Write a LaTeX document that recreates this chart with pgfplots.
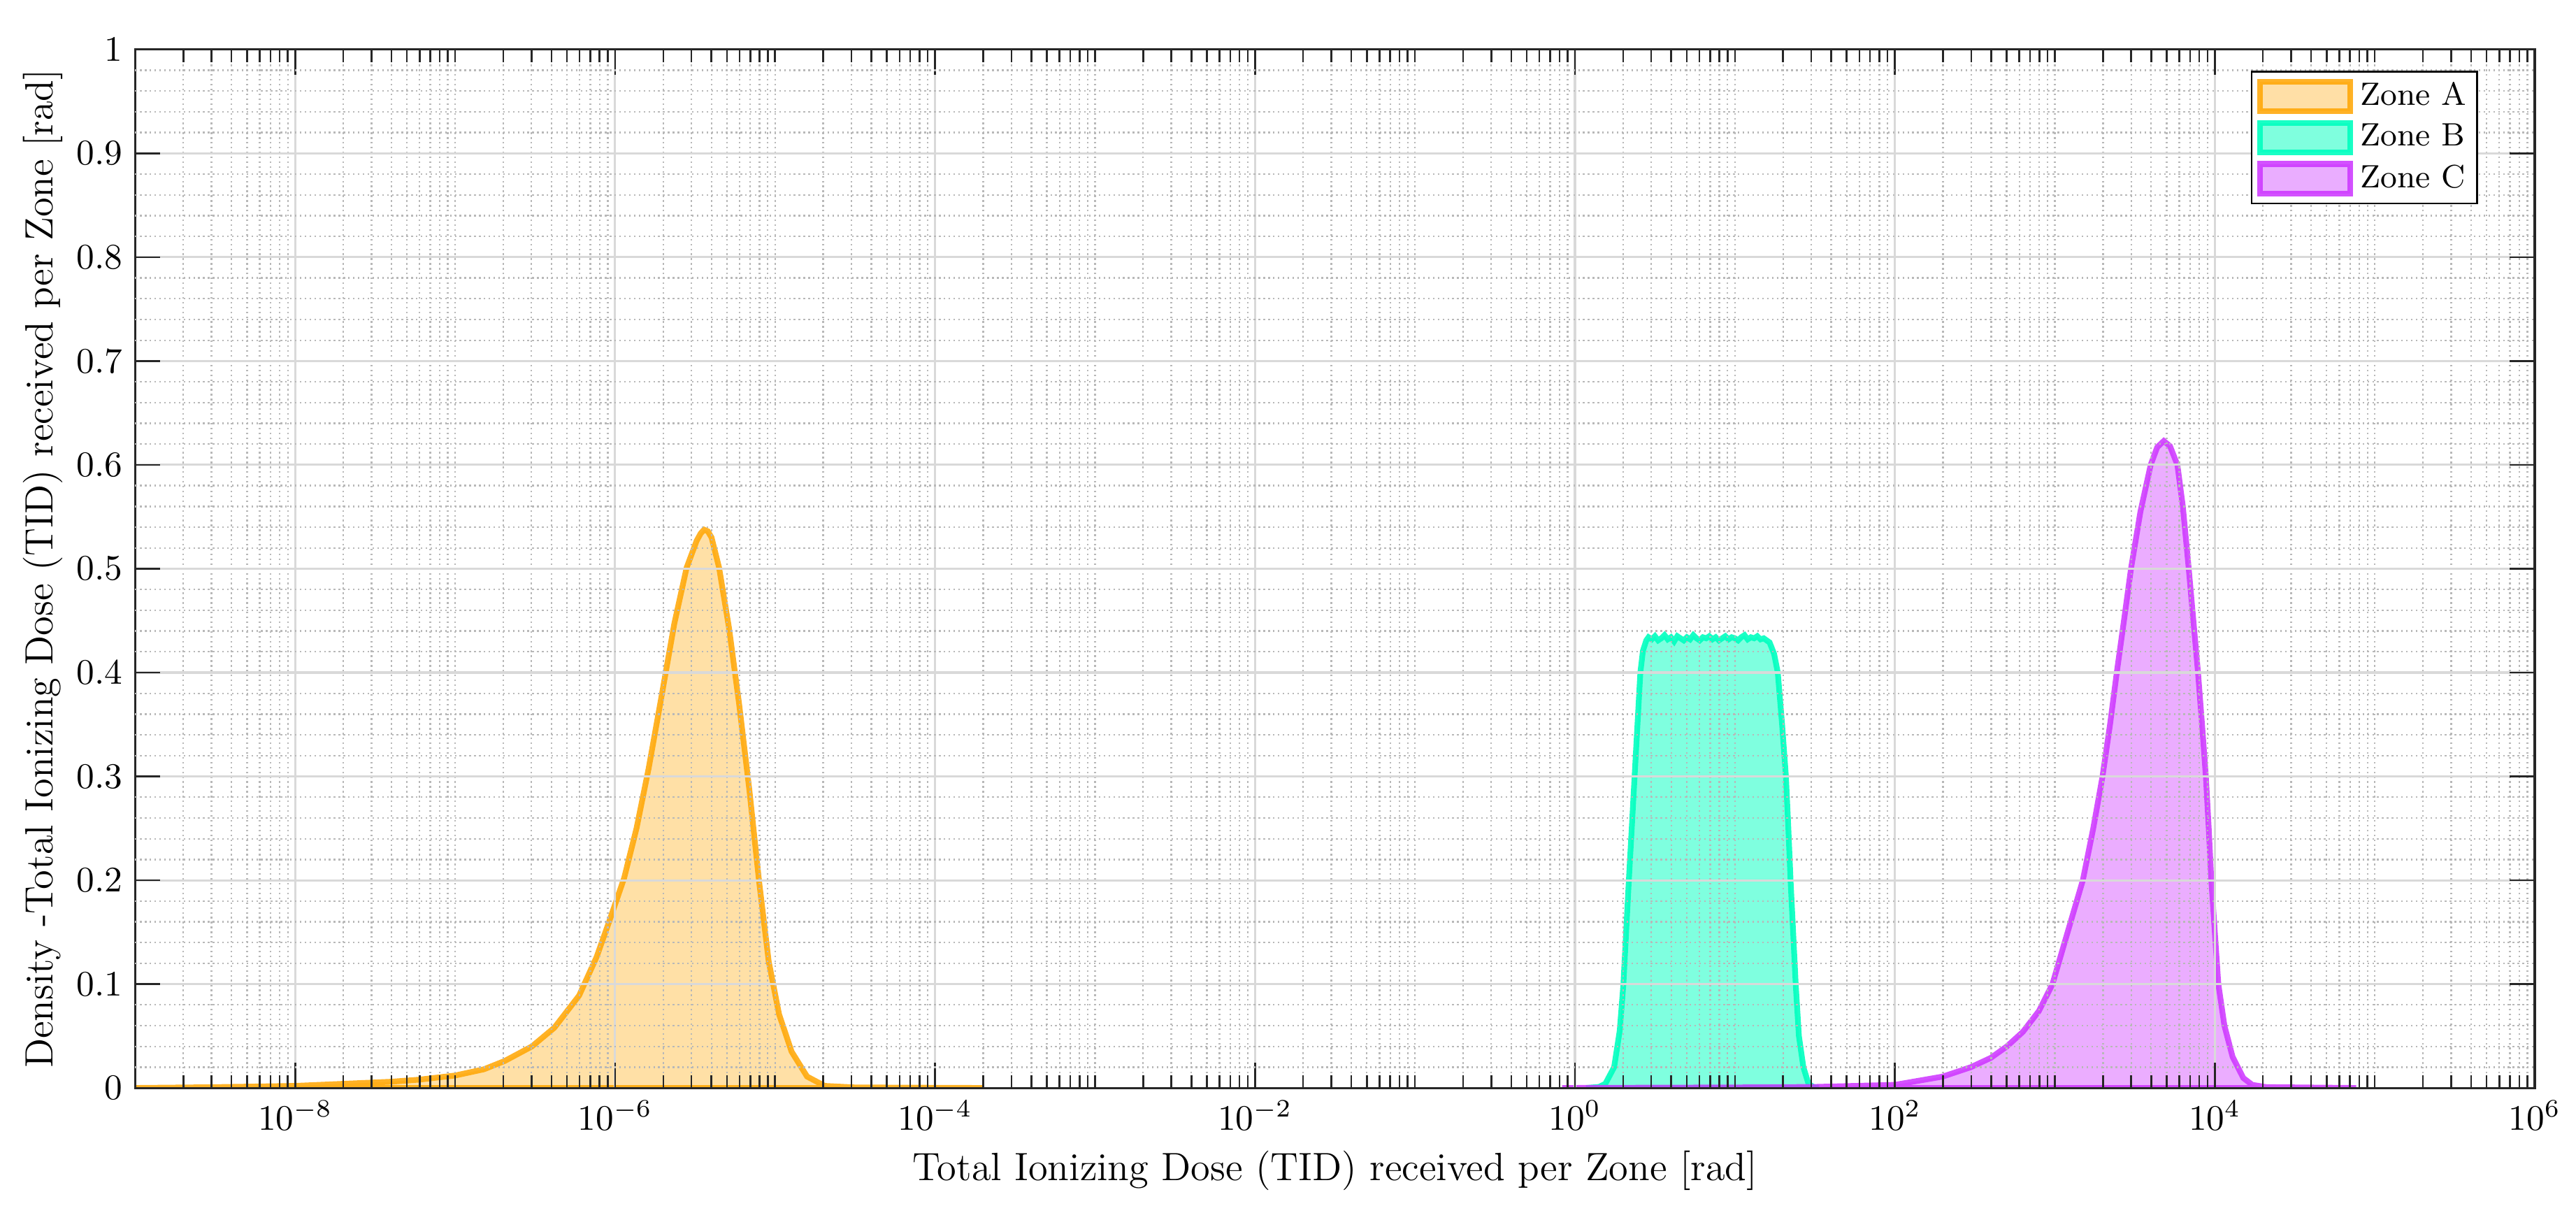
\documentclass[border=0pt]{standalone}
\usepackage{pgfplots}
\pgfplotsset{compat=1.18}
\usetikzlibrary{calc}

\definecolor{zA}{rgb}{1,0.647,0}
\definecolor{zB}{rgb}{0,1,0.75}
\definecolor{zC}{rgb}{0.8,0.2,1}

\def\minorlist{1e-9}
\foreach \e in {-9,...,5}{%
  \foreach \m in {2,...,9}{\xdef\minorlist{\minorlist,\m e\e}}%
  \ifodd\e\relax\xdef\minorlist{\minorlist,1e\e}\fi
}

\begin{document}
\begin{tikzpicture}
\begin{axis}[
  name=ax,
  scale only axis,
  width=669pt, height=289.5pt,
  xmode=log,
  xmin=1e-9, xmax=1e6,
  ymin=0, ymax=1,
  xtick={1e-8,1e-6,1e-4,1e-2,1,1e2,1e4,1e6},
  minor xtick/.expand once=\minorlist,
  ytick={0,0.1,0.2,0.3,0.4,0.5,0.6,0.7,0.8,0.9,1},
  yticklabels={0,0.1,0.2,0.3,0.4,0.5,0.6,0.7,0.8,0.9,1},
  extra y ticks={0.02,0.04,0.06,0.08,0.12,0.14,0.16,0.18,0.22,0.24,0.26,0.28,0.32,0.34,0.36,0.38,0.42,0.44,0.46,0.48,0.52,0.54,0.56,0.58,0.62,0.64,0.66,0.68,0.72,0.74,0.76,0.78,0.82,0.84,0.86,0.88,0.92,0.94,0.96,0.98},
  extra y tick labels={},
  extra y tick style={major tick length=0pt, yticklabel={}, major grid style={color=black!28, line width=0.45pt, dash pattern=on 0.45pt off 0.9pt}},
  grid=both,
  major grid style={solid, color=black!15, line width=0.6pt},
  minor grid style={color=black!28, line width=0.45pt, dash pattern=on 0.45pt off 0.9pt},
  major tick length=7pt,
  minor tick length=3.6pt,
  tick align=inside,
  tick style={color=black!85, line width=0.5pt},
  axis line style={color=black!85, line width=0.6pt},
  axis on top,
  tick label style={font=\fontsize{10}{12}\selectfont},
  every axis x label/.style={at={(rel axis cs:0.5,0)}, anchor=base, yshift=-25.8pt, font=\fontsize{11}{13}\selectfont},
  every axis y label/.style={at={(rel axis cs:0,0.5)}, rotate=90, anchor=base, yshift=23pt, font=\fontsize{11}{13}\selectfont},
  xlabel={Total Ionizing Dose (TID) received per Zone [rad]},
  ylabel={Density -Total Ionizing Dose (TID) received per Zone [rad]},
  legend style={at={(0.9764,0.9796)}, anchor=north east, draw=black, line width=0.5pt, fill=white,
    font=\fontsize{9}{10.8}\selectfont, inner xsep=1.5pt, inner ysep=2pt, row sep=1.6pt, column sep=0.5pt,
    nodes={inner xsep=1.5pt, inner ysep=1pt}, cells={anchor=west}},
  legend image code/.code={\draw[#1] (0pt,-4.1pt) rectangle (25.2pt,4.1pt);},
]
\addplot[draw=zA, draw opacity=0.85, fill=zA, fill opacity=0.35, line width=1.6pt] table[row sep=\\] {
x y\\
1e-9 0.000\\
2.917e-9 0.0007\\
1e-8 0.002\\
1.995e-8 0.004\\
3.981e-8 0.006\\
5.957e-8 0.008\\
1e-7 0.012\\
1.514e-7 0.018\\
2.042e-7 0.026\\
3.020e-7 0.040\\
4.169e-7 0.058\\
5.957e-7 0.089\\
7.656e-7 0.126\\
9.120e-7 0.159\\
1.138e-6 0.202\\
1.361e-6 0.250\\
1.622e-6 0.308\\
1.950e-6 0.377\\
2.344e-6 0.447\\
2.799e-6 0.501\\
3.236e-6 0.527\\
3.428e-6 0.534\\
3.597e-6 0.5376\\
3.802e-6 0.536\\
4.009e-6 0.530\\
4.467e-6 0.501\\
5.152e-6 0.443\\
5.957e-6 0.370\\
6.918e-6 0.286\\
7.943e-6 0.199\\
9.120e-6 0.122\\
1.059e-5 0.071\\
1.268e-5 0.035\\
1.585e-5 0.011\\
2.042e-5 0.002\\
3.162e-5 0.0005\\
1.995e-4 0.000\\
} \closedcycle;
\addlegendentry{Zone A}
\addplot[draw=zB, draw opacity=0.9, fill=zB, fill opacity=0.5, line width=1.6pt] table[row sep=\\] {
x y\\
1.175 0\\
1.413 0.001\\
1.549 0.004\\
1.758 0.02\\
1.905 0.055\\
2.009 0.1\\
2.089 0.15\\
2.173 0.2\\
2.265 0.25\\
2.360 0.3\\
2.460 0.35\\
2.564 0.4\\
2.661 0.421\\
2.793 0.431\\
2.884 0.434\\
3.020 0.432\\
3.162 0.435\\
3.311 0.431\\
3.467 0.433\\
3.631 0.436\\
3.802 0.432\\
3.981 0.434\\
4.169 0.430\\
4.365 0.435\\
4.571 0.433\\
4.786 0.431\\
5.012 0.434\\
5.248 0.432\\
5.495 0.436\\
5.754 0.433\\
6.026 0.431\\
6.310 0.434\\
6.607 0.433\\
6.918 0.435\\
7.244 0.432\\
7.586 0.434\\
7.943 0.431\\
8.318 0.433\\
8.710 0.435\\
9.120 0.432\\
9.550 0.434\\
10.00 0.433\\
10.47 0.431\\
10.96 0.434\\
11.48 0.436\\
12.02 0.432\\
12.59 0.434\\
13.18 0.433\\
13.80 0.435\\
14.45 0.432\\
15.14 0.433\\
16.48 0.429\\
17.58 0.418\\
18.54 0.4\\
19.72 0.35\\
20.84 0.3\\
21.58 0.25\\
22.28 0.2\\
23.12 0.15\\
23.99 0.1\\
25.12 0.05\\
26.79 0.02\\
28.84 0.004\\
30.90 0.001\\
33.34 0\\
} \closedcycle;
\addlegendentry{Zone B}
\addplot[draw=zC, draw opacity=0.85, fill=zC, fill opacity=0.4, line width=1.6pt] table[row sep=\\] {
x y\\
0.8318 0\\
10 0.0005\\
31.62 0.001\\
100 0.003\\
199.5 0.011\\
298.5 0.02\\
398.1 0.029\\
501.2 0.04\\
631.0 0.054\\
794.3 0.074\\
966.1 0.1\\
1202 0.15\\
1496 0.2\\
1738 0.25\\
1986 0.3\\
2213 0.35\\
2438 0.4\\
2704 0.45\\
2992 0.5\\
3428 0.555\\
3972 0.6\\
4365 0.617\\
4797 0.623\\
5248 0.618\\
5834 0.6\\
6310 0.56\\
6871 0.5\\
7345 0.45\\
7852 0.4\\
8318 0.35\\
8790 0.3\\
9162 0.25\\
9506 0.2\\
10000 0.15\\
10520 0.1\\
11480 0.06\\
12910 0.03\\
15070 0.0096\\
17140 0.003\\
21040 0.0008\\
76560 0\\
} \closedcycle;
\addlegendentry{Zone C}
\end{axis}
\pgfresetboundingbox
\path ($(ax.south west)+(-37.7pt,-32.9pt)$) rectangle ($(ax.north east)+(11.5pt,13.8pt)$);
\end{tikzpicture}
\end{document}
